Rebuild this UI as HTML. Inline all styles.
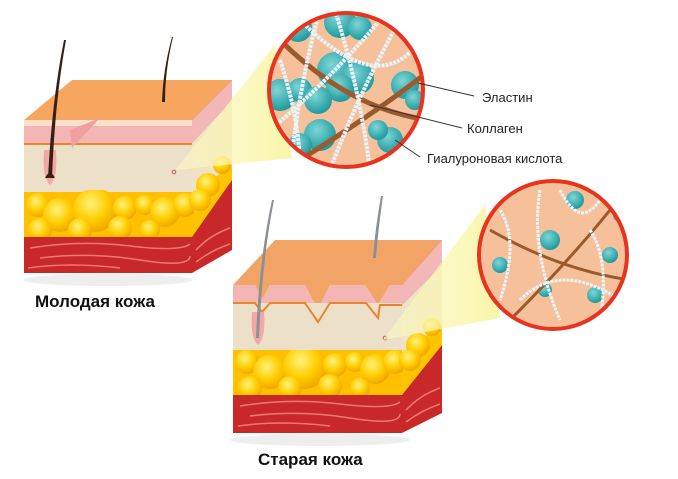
<!DOCTYPE html>
<html><head><meta charset="utf-8"><style>
html,body{margin:0;padding:0;background:#fff;width:678px;height:479px;overflow:hidden}
svg{display:block}
text{font-family:"Liberation Sans",sans-serif}
</style></head><body>
<svg width="678" height="479" viewBox="0 0 678 479" xmlns="http://www.w3.org/2000/svg">
<defs>
<radialGradient id="fat" cx="40%" cy="35%" r="65%"><stop offset="0" stop-color="#fff27a"/><stop offset="0.6" stop-color="#ffcc00"/><stop offset="1" stop-color="#f0a800"/></radialGradient>
<linearGradient id="cone" x1="1" y1="0" x2="0" y2="0"><stop offset="0" stop-color="#f9f49a" stop-opacity="0.85"/><stop offset="1" stop-color="#fbf8c8" stop-opacity="0.6"/></linearGradient>
<radialGradient id="teal" cx="40%" cy="35%" r="65%"><stop offset="0" stop-color="#7fd6d6"/><stop offset="1" stop-color="#1e9a9e"/></radialGradient>
<clipPath id="c1"><circle cx="346" cy="90" r="76"/></clipPath>
<clipPath id="c2"><circle cx="553" cy="255" r="73"/></clipPath>
<clipPath id="f1"><rect x="24" y="190" width="170" height="48"/></clipPath>
<clipPath id="f2"><rect x="233" y="350" width="170" height="46"/></clipPath>
</defs>

<!-- YOUNG BLOCK -->
<polygon points="24,120 192,120 232,80 72,80" fill="#f7a660"/>
<polygon points="192,120 232,80 232,250 192,273" fill="#c8282a"/>
<polygon points="192,120 232,80 232,100 192,143" fill="#f4b7b7"/>
<polygon points="192,143 232,100 232,165 192,195" fill="#efe2c6"/>
<polygon points="192,195 232,165 232,180 192,237" fill="#ffc400"/>
<rect x="24" y="120" width="168" height="6" fill="#fde0cc"/>
<rect x="24" y="126" width="168" height="19" fill="#f4b5b5"/>
<rect x="24" y="143" width="168" height="2" fill="#e9862c"/>
<rect x="24" y="145" width="168" height="50" fill="#ede0c8"/>
<rect x="24" y="192" width="168" height="45" fill="#ffc000"/>
<g clip-path="url(#f1)" fill="url(#fat)">
<circle cx="38" cy="205" r="12"/><circle cx="60" cy="215" r="17"/><circle cx="95" cy="210" r="22"/><circle cx="125" cy="208" r="12"/><circle cx="145" cy="205" r="10"/><circle cx="165" cy="212" r="15"/><circle cx="185" cy="205" r="12"/><circle cx="80" cy="230" r="12"/><circle cx="120" cy="228" r="12"/><circle cx="150" cy="230" r="10"/><circle cx="40" cy="230" r="12"/>
</g>
<circle cx="208" cy="185" r="12" fill="url(#fat)"/><circle cx="222" cy="165" r="9" fill="url(#fat)"/><circle cx="200" cy="200" r="11" fill="url(#fat)"/>
<rect x="24" y="237" width="168" height="36" fill="#c8282a"/>
<g stroke="#f07a6a" stroke-width="1.5" fill="none"><path d="M30 248 Q80 240 130 246 T190 244"/><path d="M40 258 Q90 252 140 260 T190 256"/><path d="M28 268 Q70 262 120 268"/><path d="M196 250 Q210 235 230 228"/><path d="M196 262 Q212 250 230 244"/></g>
<path d="M70 130 L100 118 L72 148 Z" fill="#f0a0a0"/>
<path d="M44 150 Q42 178 50 185 Q58 178 56 150 Z" fill="#f3a7a7"/>
<path d="M66 40 Q55 100 52 178 L48 178 Q52 100 64 40 Z" fill="#3a1f14"/>
<path d="M45 178 Q50 168 55 178 Z" fill="#3a1f14"/>
<path d="M173 37 Q165 70 165 102 L162 102 Q163 70 172 37 Z" fill="#3a1f14"/>
<circle cx="174" cy="172" r="1.8" fill="none" stroke="#c55"/>
<ellipse cx="108" cy="280" rx="85" ry="6" fill="#eee"/>
<text x="35" y="307" font-size="17" font-weight="bold" fill="#111">Молодая кожа</text>

<!-- OLD BLOCK -->
<polygon points="233,285 255,285 262,300 270,285 305,285 318,310 330,285 365,285 378,305 390,285 402,285 442,240 275,240" fill="#f2a466"/>
<polygon points="402,285 442,240 442,413 402,433" fill="#c8282a"/>
<polygon points="402,285 442,240 442,265 402,305" fill="#f4b7b7"/>
<polygon points="402,305 442,265 442,325 402,353" fill="#efe2c6"/>
<polygon points="402,353 442,325 442,345 402,395" fill="#ffc400"/>
<path d="M233 285 L255 285 L262 300 L270 285 L305 285 L318 310 L330 285 L365 285 L378 305 L390 285 L402 285 L402 305 L380 305 L378 318 L366 303 L330 303 L318 322 L305 303 L270 303 L262 312 L255 303 L233 303 Z" fill="#f4b5b5"/>
<rect x="233" y="303" width="169" height="50" fill="#ede0c8"/>
<path d="M233 303 L255 303 L262 312 L270 303 L305 303 L318 322 L330 303 L366 303 L378 318 L380 305 L402 305" fill="none" stroke="#e9862c" stroke-width="2"/>
<rect x="233" y="350" width="169" height="45" fill="#ffc000"/>
<g clip-path="url(#f2)" fill="url(#fat)">
<circle cx="247" cy="362" r="12"/><circle cx="270" cy="372" r="17"/><circle cx="305" cy="367" r="22"/><circle cx="335" cy="365" r="12"/><circle cx="355" cy="362" r="10"/><circle cx="375" cy="369" r="15"/><circle cx="395" cy="362" r="12"/><circle cx="290" cy="388" r="12"/><circle cx="330" cy="386" r="12"/><circle cx="360" cy="388" r="10"/><circle cx="250" cy="388" r="12"/>
</g>
<circle cx="418" cy="345" r="12" fill="url(#fat)"/><circle cx="432" cy="327" r="9" fill="url(#fat)"/><circle cx="410" cy="360" r="11" fill="url(#fat)"/>
<rect x="233" y="395" width="169" height="38" fill="#c8282a"/>
<g stroke="#f07a6a" stroke-width="1.5" fill="none"><path d="M240 406 Q290 398 340 404 T400 402"/><path d="M250 416 Q300 410 350 418 T400 414"/><path d="M238 426 Q280 420 330 426"/><path d="M406 410 Q420 395 440 388"/><path d="M406 422 Q422 410 440 404"/></g>
<path d="M252 312 Q250 338 258 345 Q266 338 264 312 Z" fill="#f3a7a7"/>
<path d="M274 200 Q262 260 259 338 L256 338 Q259 260 272 200 Z" fill="#8a8f98"/>
<path d="M383 196 Q378 230 376 258 L373 258 Q375 230 381 196 Z" fill="#8a8f98"/>
<circle cx="385" cy="338" r="1.8" fill="none" stroke="#c55"/>
<ellipse cx="320" cy="440" rx="90" ry="6" fill="#eee"/>
<text x="258" y="465" font-size="17" font-weight="bold" fill="#111">Старая кожа</text>

<!-- cones -->
<polygon points="175,170 275,45 292,158" fill="url(#cone)"/>
<polygon points="383,340 485,205 500,318" fill="url(#cone)"/>

<!-- CIRCLE 1 -->
<circle cx="346" cy="90" r="78" fill="#f6c19a"/>
<g clip-path="url(#c1)">
<g fill="url(#teal)">
<circle cx="298" cy="28" r="14"/><circle cx="340" cy="22" r="16"/><circle cx="360" cy="28" r="12"/><circle cx="335" cy="70" r="18"/><circle cx="358" cy="78" r="16"/><circle cx="340" cy="88" r="14"/><circle cx="280" cy="95" r="16"/><circle cx="300" cy="90" r="12"/><circle cx="318" cy="100" r="14"/><circle cx="405" cy="85" r="14"/><circle cx="415" cy="100" r="10"/><circle cx="320" cy="135" r="16"/><circle cx="300" cy="145" r="12"/><circle cx="390" cy="140" r="13"/><circle cx="378" cy="130" r="10"/>
</g>
<g stroke="#9a5a2e" stroke-width="5" fill="none"><path d="M280 40 Q350 110 430 120"/><path d="M300 160 Q380 110 430 70"/></g>
<g stroke="#e8f4fb" stroke-width="4" fill="none" stroke-dasharray="3 1"><path d="M280 60 Q300 120 300 170"/><path d="M320 10 Q300 80 290 170"/><path d="M335 10 Q360 90 370 170"/><path d="M300 20 Q380 100 420 40"/><path d="M400 20 Q360 90 330 170"/><path d="M270 130 Q330 80 380 20"/></g>
</g>
<circle cx="346" cy="90" r="77" fill="none" stroke="#e8331f" stroke-width="4"/>
<g stroke="#333" stroke-width="1"><line x1="418" y1="83" x2="474" y2="96"/><line x1="370" y1="105" x2="462" y2="128"/><line x1="395" y1="140" x2="420" y2="157"/></g>
<text x="482" y="102" font-size="13" fill="#222">Эластин</text>
<text x="467" y="133" font-size="13" fill="#222">Коллаген</text>
<text x="427" y="163" font-size="13" fill="#222">Гиалуроновая кислота</text>

<!-- CIRCLE 2 -->
<circle cx="553" cy="255" r="75" fill="#f6c19a"/>
<g clip-path="url(#c2)">
<g fill="url(#teal)">
<circle cx="575" cy="200" r="9"/><circle cx="550" cy="240" r="10"/><circle cx="610" cy="255" r="8"/><circle cx="500" cy="265" r="8"/><circle cx="595" cy="295" r="8"/><circle cx="545" cy="290" r="7"/><circle cx="620" cy="215" r="7"/>
</g>
<g stroke="#9a5a2e" stroke-width="3" fill="none"><path d="M490 230 Q560 270 630 280"/><path d="M510 320 Q570 260 610 210"/></g>
<g stroke="#e8f4fb" stroke-width="3" fill="none" stroke-dasharray="3 1"><path d="M500 210 Q520 240 500 300"/><path d="M560 190 Q580 230 600 200"/><path d="M520 300 Q560 260 620 300"/><path d="M540 190 Q530 250 560 320"/><path d="M590 230 Q610 260 600 320"/></g>
</g>
<circle cx="553" cy="255" r="74" fill="none" stroke="#e8331f" stroke-width="4"/>
</svg>
</body></html>
